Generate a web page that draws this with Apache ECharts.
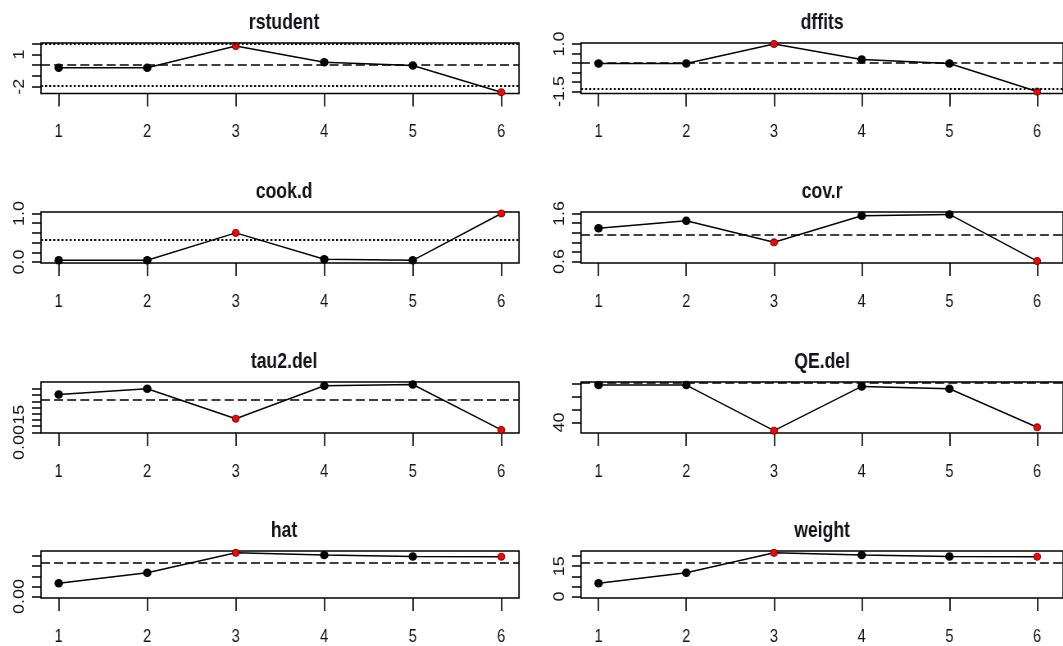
<!DOCTYPE html>
<html>
<head>
<meta charset="utf-8">
<script src="https://cdn.jsdelivr.net/npm/echarts@6/dist/echarts.min.js"></script>
<style>
html,body{margin:0;padding:0;background:#fff;overflow:hidden;width:1063px;height:646px;}
#wrap{width:1063px;height:646px;overflow:hidden;position:relative;}
#c{position:absolute;left:0;top:0;height:646px;transform-origin:0 0;}
</style>
</head>
<body>
<div id="wrap"><div id="c"></div></div>
<script>
// ---- data ----
const studies = [1, 2, 3, 4, 5, 6];
const flagged = [3, 6];

const rstudent = [-0.24, -0.24, 1.78, 0.28, -0.03, -2.52];
const dffits   = [-0.03, -0.03, 1.00, 0.18, -0.03, -1.50];
const cookd    = [0.035, 0.035, 0.60, 0.056, 0.035, 1.00];
const covr     = [1.29, 1.45, 1.00, 1.55, 1.58, 0.61];
const tau2del  = [0.00211, 0.00220, 0.00172, 0.00225, 0.00227, 0.00154];
const qedel    = [54.4, 54.4, 36.8, 53.9, 53.0, 38.1];
const hat      = [0.066, 0.118, 0.216, 0.205, 0.198, 0.197];
const weight   = [6.6, 11.8, 21.6, 20.5, 19.8, 19.7];

// reference lines
const rstudentDashed = [0];       const rstudentDotted = [-1.96, 1.96];
const dffitsDashed = [0];         const dffitsDotted = [-1.34];
const cookdDashed = [];           const cookdDotted = [0.455];
const covrDashed = [1.15];        const covrDotted = [];
const tau2Dashed = [0.00203];     const tau2Dotted = [];
const qeDashed = [55.3];          const qeDotted = [];
const hatDashed = [1/6];          const hatDotted = [];
const weightDashed = [100/6];     const weightDotted = [];

// tick values and labelled ticks
const rstudentTicks = [-2, -1, 0, 1, 2];            const rstudentLab = [-2, 1];
const dffitsTicks = [-1.5, -1, -0.5, 0, 0.5, 1];    const dffitsLab = [-1.5, 1];
const cookdTicks = [0, 0.2, 0.4, 0.6, 0.8, 1];      const cookdLab = [0, 1];
const covrTicks = [0.6, 0.8, 1.0, 1.2, 1.4, 1.6];   const covrLab = [0.6, 1.6];
const tau2Ticks = [0.0015, 0.0016, 0.0017, 0.0018, 0.0019, 0.0020, 0.0021, 0.0022]; const tau2Lab = [0.0015];
const qeTicks = [40, 45, 50, 55];                   const qeLab = [40];
const hatTicks = [0, 0.05, 0.10, 0.15, 0.20];       const hatLab = [0];
const weightTicks = [0, 5, 10, 15, 20];             const weightLab = [0, 15];

const titles = ['rstudent', 'dffits', 'cook.d', 'cov.r', 'tau2.del', 'QE.del', 'hat', 'weight'];

// ---- panel setup (axis ranges & formatting) ----
const panels = [
  {name: titles[0], y: rstudent, min: -2.64, max: 2.07, ticks: rstudentTicks, lab: rstudentLab, dec: 0, dashed: rstudentDashed, dotted: rstudentDotted},
  {name: titles[1], y: dffits, min: -1.6, max: 1.05, ticks: dffitsTicks, lab: dffitsLab, dec: 1, dashed: dffitsDashed, dotted: dffitsDotted},
  {name: titles[2], y: cookd, min: -0.02, max: 1.03, ticks: cookdTicks, lab: cookdLab, dec: 1, dashed: cookdDashed, dotted: cookdDotted},
  {name: titles[3], y: covr, min: 0.57, max: 1.63, ticks: covrTicks, lab: covrLab, dec: 1, dashed: covrDashed, dotted: covrDotted},
  {name: titles[4], y: tau2del, min: 0.00149, max: 0.00231, ticks: tau2Ticks, lab: tau2Lab, dec: 4, dashed: tau2Dashed, dotted: tau2Dotted},
  {name: titles[5], y: qedel, min: 35.9, max: 55.6, ticks: qeTicks, lab: qeLab, dec: 0, dashed: qeDashed, dotted: qeDotted},
  {name: titles[6], y: hat, min: -0.007, max: 0.225, ticks: hatTicks, lab: hatLab, dec: 2, dashed: hatDashed, dotted: hatDotted},
  {name: titles[7], y: weight, min: -0.7, max: 22.5, ticks: weightTicks, lab: weightLab, dec: 0, dashed: weightDashed, dotted: weightDotted}
];

// Narrow-font emulation: the chart is drawn wider and compressed horizontally.
const SX = 1.22;
const W = 1063, H = 646;
const el = document.getElementById('c');
el.style.width = Math.round(W * SX) + 'px';
el.style.transform = 'scaleX(' + (1 / SX) + ')';

const colLeft = [41, 581];
const colWidth = [478, 483];
const colXMax = [6.2, 6.296];
const colTitleX = [280, 818];
const rowTop = [43, 212, 382, 551];
const rowHeight = [50.5, 51, 51, 52];

const FONT = "'Liberation Sans', Arial, sans-serif";
const TXT = '#141418';

const grids = [], xAxes = [], yAxes = [], series = [], titleArr = [];

panels.forEach((p, i) => {
  const col = i % 2, row = Math.floor(i / 2);
  grids.push({
    left: colLeft[col] * SX, top: rowTop[row], width: colWidth[col] * SX, height: rowHeight[row],
    show: true, borderColor: '#000', borderWidth: 1.7, backgroundColor: 'transparent', containLabel: false
  });
  titleArr.push({
    text: p.name,
    left: colTitleX[col] * SX,
    top: rowTop[row] - 36,
    textAlign: 'center',
    textStyle: {fontFamily: FONT, fontWeight: 'bold', fontSize: 21.5, color: TXT}
  });
  xAxes.push({
    gridIndex: i, type: 'value', min: 0.8, max: colXMax[col],
    axisLine: {show: false, onZero: false}, splitLine: {show: false},
    axisTick: {show: true, customValues: studies, length: 13, lineStyle: {color: '#000', width: 1.6}},
    axisLabel: {show: true, customValues: studies, margin: 30, fontFamily: FONT, fontSize: 18, color: TXT,
      formatter: v => String(Math.round(v))}
  });
  yAxes.push({
    gridIndex: i, type: 'value', min: p.min, max: p.max,
    axisLine: {show: false, onZero: false}, splitLine: {show: false},
    axisTick: {show: true, customValues: p.ticks, length: 9 * SX, lineStyle: {color: '#000', width: 1.5}},
    axisLabel: {show: true, customValues: p.lab, rotate: 90, margin: 14 * SX, fontFamily: FONT, fontSize: 18, color: TXT,
      formatter: v => Number(v).toFixed(p.dec)}
  });
  const ml = [];
  p.dashed.forEach(v => ml.push({yAxis: v, lineStyle: {type: [11, 5], color: '#000', width: 1.6}}));
  p.dotted.forEach(v => ml.push({yAxis: v, lineStyle: {type: [2.4, 2.6], color: '#000', width: 2}}));
  series.push({
    type: 'line', xAxisIndex: i, yAxisIndex: i, clip: false,
    data: studies.map((s, k) => {
      const red = flagged.indexOf(s) >= 0;
      return {
        value: [s, p.y[k]],
        symbolSize: red ? [7 * SX, 7] : [8.5 * SX, 8.5],
        itemStyle: red ? {color: '#ff0000', borderColor: '#300', borderWidth: 0.8} : {color: '#000'}
      };
    }),
    symbol: 'circle', showSymbol: true,
    lineStyle: {color: '#000', width: 1.5},
    markLine: {silent: true, precision: 8, symbol: ['none', 'none'], label: {show: false}, data: ml, animation: false},
    z: 3
  });
});

const chart = echarts.init(el, null, {renderer: 'canvas'});
chart.setOption({
  animation: false,
  backgroundColor: '#fff',
  title: titleArr,
  grid: grids,
  xAxis: xAxes,
  yAxis: yAxes,
  series: series
});
</script>
</body>
</html>
